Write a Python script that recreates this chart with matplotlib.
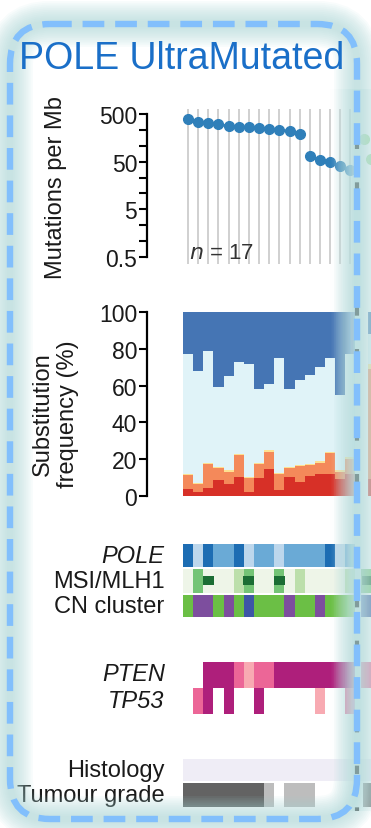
import numpy as np
import matplotlib.pyplot as plt
from matplotlib.patches import FancyBboxPatch
import matplotlib.ticker as mticker

plt.rcParams['font.family'] = ['Liberation Sans', 'DejaVu Sans']

W, H = 371, 829          # output size in pixels
PX = 10.15               # pixels per sample column
X0 = -4.04               # data x at the left spine

# --- mutation rate (mutations per Mb), POLE cluster, n = 17
mut_rate = [393, 345, 324, 304, 276, 268, 263, 251, 243, 231, 217, 190,
            65, 55, 49, 41, 34]
next_mut_pos = [17.3, 18.0]      # first samples of the next (MSI) cluster
next_mut = [150, 57]

# --- substitution frequency (%), stacked bottom -> top
sub_red    = [3.6, 2.4, 4.5, 8.7, 6.4, 10.5, 2.4, 10.0, 14.5, 3.3, 10.5, 7.8, 11.0, 12.0, 12.0, 9.0, 12.0]
sub_orange = [7.6, 3.9, 12.7, 6.5, 6.8, 11.7, 7.3, 7.2, 9.6, 8.6, 4.7, 8.4, 5.8, 6.2, 11.2, 4.2, 8.2]
sub_yellow = [0.8, 0.7, 0.8, 0.8, 0.8, 0.8, 0.8, 0.8, 0.9, 0.8, 0.8, 0.8, 0.8, 0.8, 0.8, 0.8, 0.8]
sub_dark   = [23, 32, 21, 41, 35, 27, 28, 42, 39, 25, 42, 37, 34, 30, 25, 45, 23]
next_sub = {"red": 9, "orange": 60, "yellow": 3, "dark": 12}

# --- annotation tracks
pole_track = ["dark", "light", "dark", "mid", "mid", "dark", "light", "mid", "mid",
              "light", "mid", "mid", "mid", "mid", "dark", "light", "mid"]
msi_track = ["mss", "msi", "mss", "mss", "mss", "low", "msi", "mss", "mss",
             "msi", "mss", "low", "mss", "mss", "mss", "mss", "low"]
mlh1_marker = [2, 6, 9]
cn_track = ["g", "p", "p", "g", "p", "g", "b", "g", "g", "g", "p", "g", "g", "p", "g", "g", "g"]
pten_track = [None, None, "dark", "dark", "dark", "pink", "lpink", "pink", "pink",
              "dark", "dark", "dark", "dark", "dark", "dark", "dark", "dark"]
tp53_track = [None, "pink", "dark", None, "dark", None, None, "dark", None,
              None, None, None, None, "lpink", None, None, "pink"]
histology_track = ["endo"] * 17
grade_track = ["g3", "g3", "g3", "g3", "g3", "g3", "g3", "g3", "g2", None,
               "g2", "g2", "g2", None, None, None, None]

pole_col = {"dark": "#1d6db3", "mid": "#6aaad6", "light": "#bdd7ec"}
msi_col = {"mss": "#eef5e8", "low": "#bcdfab", "msi": "#74c476"}
cn_col = {"g": "#6bbf45", "p": "#7d4e9e", "b": "#3d56a6"}
mut_col = {"dark": "#ae1f7b", "pink": "#ec6697", "lpink": "#f8aab2"}
hist_col = {"endo": "#efedf6"}
grade_col = {"g3": "#636363", "g2": "#bdbdbd"}

TXT = "#1a1a1a"
FS = 17


def add_ax(left, top, right, bottom):
    return fig.add_axes([left / W, 1 - bottom / H, (right - left) / W, (bottom - top) / H])


def bare(ax):
    for s in ax.spines.values():
        s.set_visible(False)
    ax.set_xticks([])
    ax.set_yticks([])
    ax.set_xlim(X0, X0 + (W - 147) / PX)
    ax.patch.set_alpha(0)


fig = plt.figure(figsize=(W / 100, H / 100), dpi=100)
idx = np.arange(len(mut_rate))

# ---------------- mutations per Mb
ax = add_ax(147, 110, W, 265)
dec = 47.67
ax.set_yscale("log")
ax.set_ylim(0.5 / 10 ** (7 / dec), 500 * 10 ** (5 / dec))
ax.set_xlim(X0, X0 + (W - 147) / PX)
for i in idx:
    ax.axvline(i, color="#d0d0d0", lw=1.4, zorder=0)
ax.plot(idx[:12], mut_rate[:12], "o-", color="#2f7fb9", ms=7, lw=2)
ax.plot(idx[12:], mut_rate[12:], "o-", color="#2f7fb9", ms=7, lw=2)
ax.plot(next_mut_pos, next_mut, "o", color="#a6dba0", ms=7)
for s in ["top", "right", "bottom"]:
    ax.spines[s].set_visible(False)
ax.spines["left"].set_bounds(0.5, 500)
ax.spines["left"].set_linewidth(1.6)
ax.set_xticks([])
ax.yaxis.set_major_locator(mticker.FixedLocator([0.5, 5, 50, 500]))
ax.yaxis.set_major_formatter(mticker.FixedFormatter(["0.5", "5", "50", "500"]))
ax.yaxis.set_minor_locator(mticker.FixedLocator(
    [0.5 * 10 ** (k / 3) for k in range(1, 9) if k % 3]))
ax.yaxis.set_minor_formatter(mticker.NullFormatter())
ax.tick_params(axis="y", which="both", length=6, width=1.5, labelsize=FS - 0.5,
               pad=1, labelcolor=TXT)
ax.set_ylabel("Mutations per Mb", fontsize=FS, color=TXT)
ax.yaxis.set_label_coords(-0.357, 0.5)
ax.text(0.1, 0.62, r"$\it{n}$ = 17", fontsize=FS - 1, color="#333333",
        transform=ax.transData, va="center")
ax.patch.set_alpha(0)

# ---------------- substitution frequency
ax = add_ax(147, 313, W, 497)
ax.set_ylim(0, 100)
ax.set_xlim(X0, X0 + (W - 147) / PX)
red = np.array(sub_red)
orange = np.array(sub_orange)
yellow = np.array(sub_yellow)
dark = np.array(sub_dark)
light = 100 - red - orange - yellow - dark
bottom = np.zeros(len(idx))
for vals, c in [(red, "#d73027"), (orange, "#f4895a"), (yellow, "#fee090"),
                (light, "#e0f3f8"), (dark, "#4575b4")]:
    ax.bar(idx, vals, bottom=bottom, width=1.0, color=c, linewidth=0)
    bottom = bottom + vals
nb = 0
for key, c in [("red", "#d73027"), ("orange", "#f4895a"), ("yellow", "#fee090")]:
    ax.bar(18.2, next_sub[key], bottom=nb, width=1.0, color=c, linewidth=0)
    nb += next_sub[key]
ax.bar(18.2, 100 - nb - next_sub["dark"], bottom=nb, width=1.0, color="#e0f3f8", linewidth=0)
ax.bar(18.2, next_sub["dark"], bottom=100 - next_sub["dark"], width=1.0, color="#4575b4", linewidth=0)
for s in ["top", "right", "bottom"]:
    ax.spines[s].set_visible(False)
ax.spines["left"].set_bounds(0, 100)
ax.spines["left"].set_linewidth(1.6)
ax.set_xticks([])
ax.set_yticks([0, 20, 40, 60, 80, 100])
ax.tick_params(axis="y", length=6, width=1.5, labelsize=FS - 0.5, pad=1, labelcolor=TXT)
ax.set_ylabel("Substitution\nfrequency (%)", fontsize=FS, color=TXT, linespacing=1.15)
ax.yaxis.set_label_coords(-0.305, 0.45)
ax.patch.set_alpha(0)

# ---------------- POLE / MSI / CN tracks
ax = add_ax(147, 545, W, 619)
bare(ax)
ax.set_ylim(3, 0)
ax.bar(idx, 0.93, bottom=0, width=1.0, color=[pole_col[v] for v in pole_track], linewidth=0)
ax.bar(idx, 0.95, bottom=1.02, width=1.0, color=[msi_col[v] for v in msi_track], linewidth=0)
ax.bar(mlh1_marker, 0.36, bottom=1.31, width=1.1, color="#1b6d34", linewidth=0)
ax.bar(idx, 0.92, bottom=2.05, width=1.0, color=[cn_col[v] for v in cn_track], linewidth=0)
ax.bar(17.5, 0.95, bottom=1.02, width=1.0, color=msi_col["msi"], linewidth=0)
ax.bar(17.6, 0.36, bottom=1.31, width=0.9, color="#1b6d34", linewidth=0)
ax.bar(17.5, 0.92, bottom=2.05, width=1.0, color=cn_col["b"], linewidth=0)
for y, lab, st in [(0.47, "POLE", "italic"), (1.5, "MSI/MLH1", "normal"),
                   (2.5, "CN cluster", "normal")]:
    ax.text(-2.3, y, lab, ha="right", va="center", fontsize=FS, style=st, color=TXT)

# ---------------- PTEN / TP53
ax = add_ax(147, 663, W, 715)
bare(ax)
ax.set_ylim(2, 0)
for row, track in enumerate([pten_track, tp53_track]):
    for i, v in enumerate(track):
        if v is not None:
            ax.bar(i, 1.0, bottom=row, width=1.0, color=mut_col[v], linewidth=0)
ax.bar(17.5, 1.0, bottom=0, width=1.0, color=mut_col["pink"], linewidth=0)
for y, lab in [(0.45, "PTEN"), (1.5, "TP53")]:
    ax.text(-2.3, y, lab, ha="right", va="center", fontsize=FS, style="italic", color=TXT)

# ---------------- Histology / grade
ax = add_ax(147, 760, W, 808)
bare(ax)
ax.set_ylim(2, 0)
ax.bar(np.arange(len(histology_track) + 2), 0.92, bottom=0, width=1.0,
       color=hist_col["endo"], linewidth=0)
for i, v in enumerate(grade_track):
    if v is not None:
        ax.bar(i, 1.0, bottom=1.0, width=1.0, color=grade_col[v], linewidth=0)
ax.bar(17.6, 1.0, bottom=1.0, width=0.8, color=grade_col["g3"], linewidth=0)
for y, lab in [(0.45, "Histology"), (1.5, "Tumour grade")]:
    ax.text(-2.3, y, lab, ha="right", va="center", fontsize=FS, color=TXT)

# ---------------- overlay: title, fade, glow, dashed box
ov = fig.add_axes([0, 0, 1, 1])
ov.set_xlim(0, W)
ov.set_ylim(H, 0)
ov.axis("off")
ov.patch.set_alpha(0)

# washed-out right edge of the crop
gx = np.linspace(330, 371, 80)
alpha = np.interp(gx, [330, 345, 356, 362, 371], [0.0, 0.35, 0.8, 0.6, 0.4])
grad = np.zeros((2, len(gx), 4))
grad[..., :3] = np.array([0.90, 0.96, 0.96])
grad[..., 3] = alpha
ov.imshow(grad, extent=(330, 371, 812, 90), aspect="auto", zorder=1)

ov.vlines(357, 100, 812, color="#555555", lw=3, linestyles=(0, (2, 8)), zorder=2)


def box(**kw):
    return FancyBboxPatch((10, 25), 347, 795, boxstyle="round,pad=0,rounding_size=40",
                          fill=False, **kw)


for lw in np.linspace(46, 6, 12):
    ov.add_patch(box(edgecolor="#a7d6d6", lw=lw * 0.72, alpha=0.07, zorder=3))
ov.add_patch(box(edgecolor="#82bffc", lw=4.6, linestyle=(0, (3.4, 1.7)), zorder=4))

ov.text(182, 59, "POLE UltraMutated", ha="center", va="center", fontsize=27,
        color="#1a6fc8", zorder=5)
ov.set_xlim(0, W)
ov.set_ylim(H, 0)

fig.savefig("out.png", dpi=100)
